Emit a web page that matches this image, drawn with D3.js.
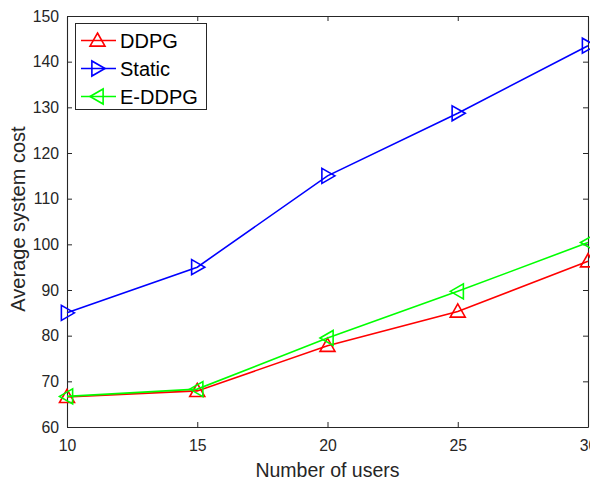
<!DOCTYPE html>
<html><head><meta charset="utf-8">
<script src="https://cdn.jsdelivr.net/npm/d3@7"></script>
<style>html,body{margin:0;padding:0;background:#fff;overflow:hidden}svg{display:block}</style>
</head><body>
<script>
const users = [10, 15, 20, 25, 30];
const ddpg = [66.6, 67.9, 77.8, 85.3, 96.3];
const staticCost = [85.0, 95.0, 115.0, 128.7, 143.5];
const eddpg = [66.7, 68.3, 79.5, 89.7, 100.4];
const xTicks = [10, 15, 20, 25, 30];
const yTicks = [60, 70, 80, 90, 100, 110, 120, 130, 140, 150];
const seriesNames = ["DDPG", "Static", "E-DDPG"];

const W = 590, H = 481;
const L = 67, R = 588, T = 16, B = 427;
const svg = d3.select("body").append("svg").attr("width", W).attr("height", H);
const x = d3.scaleLinear().domain([10, 30]).range([L, R]);
const y = d3.scaleLinear().domain([60, 150]).range([B, T]);
const axisColor = "#262626";
const font = "'Liberation Sans', Arial, Helvetica, sans-serif";

function styleAxis(g) {
  g.selectAll("path.domain").attr("stroke", axisColor).attr("stroke-width", 1.1);
  g.selectAll(".tick line").attr("stroke", axisColor).attr("stroke-width", 1);
  g.selectAll(".tick text").attr("fill", axisColor).style("font-family", font).style("font-size", "15.8px");
}
const gx = svg.append("g").attr("transform", `translate(0,${B})`)
  .call(d3.axisBottom(x).tickValues(xTicks).tickSizeInner(-5).tickSizeOuter(0).tickPadding(12.5));
styleAxis(gx);
const gxt = svg.append("g").attr("transform", `translate(0,${T})`)
  .call(d3.axisTop(x).tickValues(xTicks).tickSizeInner(-5).tickSizeOuter(0).tickFormat(""));
styleAxis(gxt);
const gy = svg.append("g").attr("transform", `translate(${L},0)`)
  .call(d3.axisLeft(y).tickValues(yTicks).tickSizeInner(-5).tickSizeOuter(0).tickPadding(8));
styleAxis(gy);
const gyr = svg.append("g").attr("transform", `translate(${R},0)`)
  .call(d3.axisRight(y).tickValues(yTicks).tickSizeInner(-5).tickSizeOuter(0).tickFormat(""));
styleAxis(gyr);

svg.append("text").attr("x", (L + R) / 2).attr("y", 477).attr("text-anchor", "middle")
  .attr("fill", axisColor).style("font-family", font).style("font-size", "19.5px").text("Number of users");
svg.append("text").attr("transform", `translate(24.5,219) rotate(-90)`).attr("text-anchor", "middle")
  .attr("fill", axisColor).style("font-family", font).style("font-size", "20px").text("Average system cost");

const s = 7.5;
const markers = {
  up: `M0,${-s} L${s},${s * 0.75} L${-s},${s * 0.75} Z`,
  right: `M${s},0 L${-s * 0.75},${-s} L${-s * 0.75},${s} Z`,
  left: `M${-s},0 L${s * 0.75},${-s} L${s * 0.75},${s} Z`
};
const series = [
  { name: seriesNames[0], vals: ddpg, color: "#ff0000", m: "up" },
  { name: seriesNames[1], vals: staticCost, color: "#0000ff", m: "right" },
  { name: seriesNames[2], vals: eddpg, color: "#00ff00", m: "left" }
];
const line = d3.line().x((d, i) => x(users[i])).y(d => y(d));
series.forEach(sr => {
  const g = svg.append("g");
  g.append("path").attr("d", line(sr.vals)).attr("fill", "none").attr("stroke", sr.color).attr("stroke-width", 1.6);
  g.selectAll("path.mk").data(sr.vals).enter().append("path").attr("class", "mk")
    .attr("d", markers[sr.m]).attr("transform", (d, i) => `translate(${x(users[i])},${y(d)})`)
    .attr("fill", "none").attr("stroke", sr.color).attr("stroke-width", 1.6);
});

// legend
const lg = svg.append("g");
lg.append("rect").attr("x", 75.5).attr("y", 23.5).attr("width", 131).attr("height", 86)
  .attr("fill", "#fff").attr("stroke", axisColor).attr("stroke-width", 1);
series.forEach((sr, i) => {
  const yy = 40.5 + i * 28;
  lg.append("line").attr("x1", 81).attr("x2", 116).attr("y1", yy).attr("y2", yy).attr("stroke", sr.color).attr("stroke-width", 1.6);
  lg.append("path").attr("d", markers[sr.m]).attr("transform", `translate(97.5,${yy})`)
    .attr("fill", "none").attr("stroke", sr.color).attr("stroke-width", 1.6);
  lg.append("text").attr("x", 120).attr("y", yy + 7.3).attr("fill", "#000")
    .style("font-family", font).style("font-size", "20px").text(sr.name);
});
</script>
</body></html>
